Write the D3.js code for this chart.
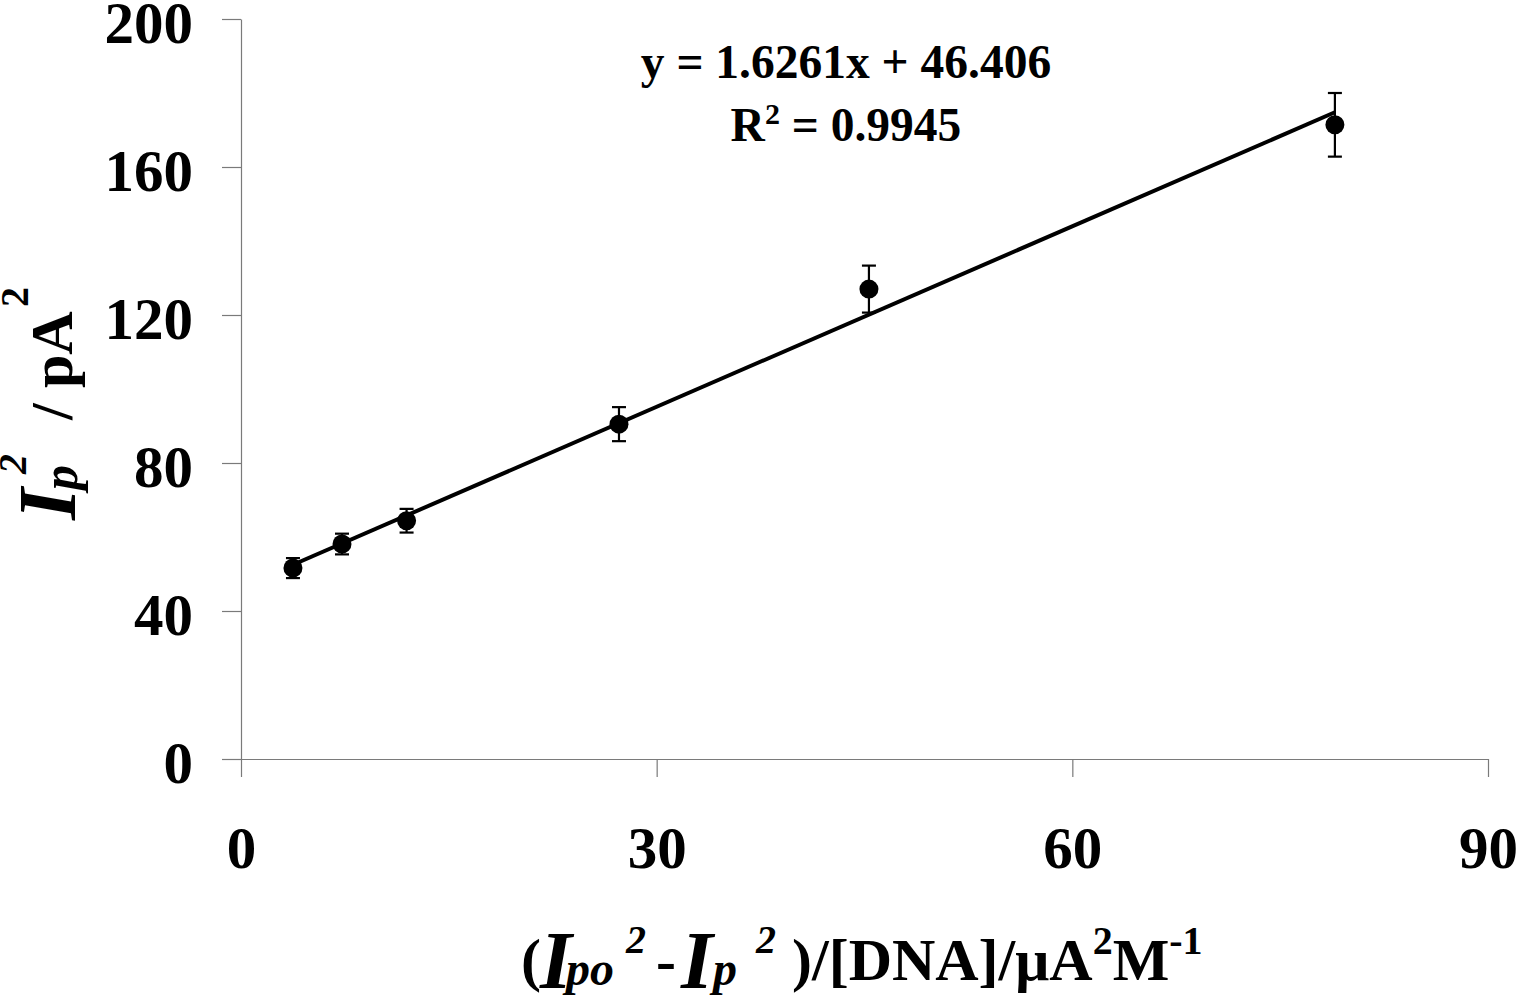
<!DOCTYPE html>
<html>
<head>
<meta charset="utf-8">
<script src="https://cdn.jsdelivr.net/npm/d3@7/dist/d3.min.js"></script>
<style>
  html, body { margin: 0; padding: 0; background: #fff; }
  svg text { font-family: "Liberation Serif", "Times New Roman", serif; font-weight: bold; fill: #000; }
</style>
</head>
<body>
<svg id="chart" width="1517" height="1000"></svg>
<script>
// ---- data ----
const xValues = [3.75, 7.29, 11.95, 27.28, 45.32, 78.95];
const yValues = [51.6, 58.1, 64.4, 90.5, 127.0, 171.4];
const yErrors = [2.7, 2.8, 3.2, 4.6, 6.35, 8.6];
const xTicks = [0, 30, 60, 90];
const yTicks = [0, 40, 80, 120, 160, 200];
const fitSlope = 1.6261;
const fitIntercept = 46.406;
const fitR2 = 0.9945;

const svg = d3.select("#chart");
const x = d3.scaleLinear().domain([0, 90]).range([241, 1488]);
const y = d3.scaleLinear().domain([0, 200]).range([759, 19]);
const axisColor = "#7a7a7a";

// y axis
const gy = svg.append("g").attr("transform", `translate(${x(0)},0)`)
  .call(d3.axisLeft(y).tickValues(yTicks).tickSize(19).tickSizeOuter(0).tickPadding(29).tickFormat(d3.format("d")));
// x axis
const gx = svg.append("g").attr("transform", `translate(0,${y(0)})`)
  .call(d3.axisBottom(x).tickValues(xTicks).tickSize(18).tickSizeOuter(0).tickFormat(d3.format("d")));

[gy, gx].forEach(g => {
  g.select(".domain").attr("stroke", axisColor).attr("stroke-width", 1.2);
  g.selectAll(".tick line").attr("stroke", axisColor).attr("stroke-width", 1.2);
  g.selectAll(".tick text").attr("font-size", 59).attr("font-family", "Liberation Serif, serif").attr("font-weight", "bold").attr("fill", "#000");
});
gy.selectAll(".tick text").attr("dy", "0.39em");
gx.selectAll(".tick text").attr("y", 109).attr("dy", 0);

// trend line
const xMin = d3.min(xValues), xMax = d3.max(xValues);
svg.append("line")
  .attr("x1", x(xMin)).attr("y1", y(fitSlope * xMin + fitIntercept))
  .attr("x2", x(xMax)).attr("y2", y(fitSlope * xMax + fitIntercept))
  .attr("stroke", "#000").attr("stroke-width", 4);

// error bars
const pts = xValues.map((v, i) => ({ x: v, y: yValues[i], e: yErrors[i] }));
const eb = svg.append("g").attr("stroke", "#000").attr("stroke-width", 2.2);
pts.forEach(p => {
  eb.append("line").attr("x1", x(p.x)).attr("x2", x(p.x)).attr("y1", y(p.y + p.e)).attr("y2", y(p.y - p.e));
  eb.append("line").attr("x1", x(p.x) - 7).attr("x2", x(p.x) + 7).attr("y1", y(p.y + p.e)).attr("y2", y(p.y + p.e));
  eb.append("line").attr("x1", x(p.x) - 7).attr("x2", x(p.x) + 7).attr("y1", y(p.y - p.e)).attr("y2", y(p.y - p.e));
});

// points
svg.append("g").selectAll("circle").data(pts).join("circle")
  .attr("cx", d => x(d.x)).attr("cy", d => y(d.y)).attr("r", 9.5).attr("fill", "#000");

// equation
svg.append("text").attr("x", 846).attr("y", 78).attr("text-anchor", "middle").attr("font-size", 47.5)
  .text(`y = ${fitSlope}x + ${fitIntercept}`);
const r2 = svg.append("text").attr("x", 846).attr("y", 141).attr("text-anchor", "middle").attr("font-size", 47.5);
r2.append("tspan").text("R");
r2.append("tspan").attr("font-size", 30).attr("dy", -17).text("2");
r2.append("tspan").attr("dy", 17).text(` = ${fitR2}`);

// y axis title (rotated; x along text, y across)
const yt = svg.append("text").attr("transform", "translate(72,520) rotate(-90)").attr("font-size", 60);
yt.append("tspan").attr("x", 0).attr("y", 3).attr("font-style", "italic").attr("font-size", 82).text("I");
yt.append("tspan").attr("x", 30).attr("y", 5).attr("font-style", "italic").attr("font-size", 50).text("p");
yt.append("tspan").attr("x", 46).attr("y", -46).attr("font-style", "italic").attr("font-size", 40).text("2");
yt.append("tspan").attr("x", 100).attr("y", 0).text("/");
yt.append("tspan").attr("x", 132).attr("y", 0).text("pA");
yt.append("tspan").attr("x", 213).attr("y", -44).attr("font-size", 40).text("2");

// x axis title
const xt = svg.append("text").attr("font-size", 60);
xt.append("tspan").attr("x", 521).attr("y", 980).text("(");
xt.append("tspan").attr("x", 540).attr("y", 988).attr("font-style", "italic").attr("font-size", 82).text("I");
xt.append("tspan").attr("x", 566).attr("y", 985).attr("font-style", "italic").attr("font-size", 48).text("po");
xt.append("tspan").attr("x", 626).attr("y", 953).attr("font-style", "italic").attr("font-size", 40).text("2");
xt.append("tspan").attr("x", 656).attr("y", 980).text("-");
xt.append("tspan").attr("x", 681).attr("y", 988).attr("font-style", "italic").attr("font-size", 82).text("I");
xt.append("tspan").attr("x", 713).attr("y", 985).attr("font-style", "italic").attr("font-size", 48).text("p");
xt.append("tspan").attr("x", 756).attr("y", 953).attr("font-style", "italic").attr("font-size", 40).text("2");
xt.append("tspan").attr("x", 792).attr("y", 980).text(")/[DNA]/μA");
xt.append("tspan").attr("font-size", 40).attr("dy", -26).text("2");
xt.append("tspan").attr("dy", 26).text("M");
xt.append("tspan").attr("font-size", 40).attr("dy", -26).text("-1");
</script>
</body>
</html>
